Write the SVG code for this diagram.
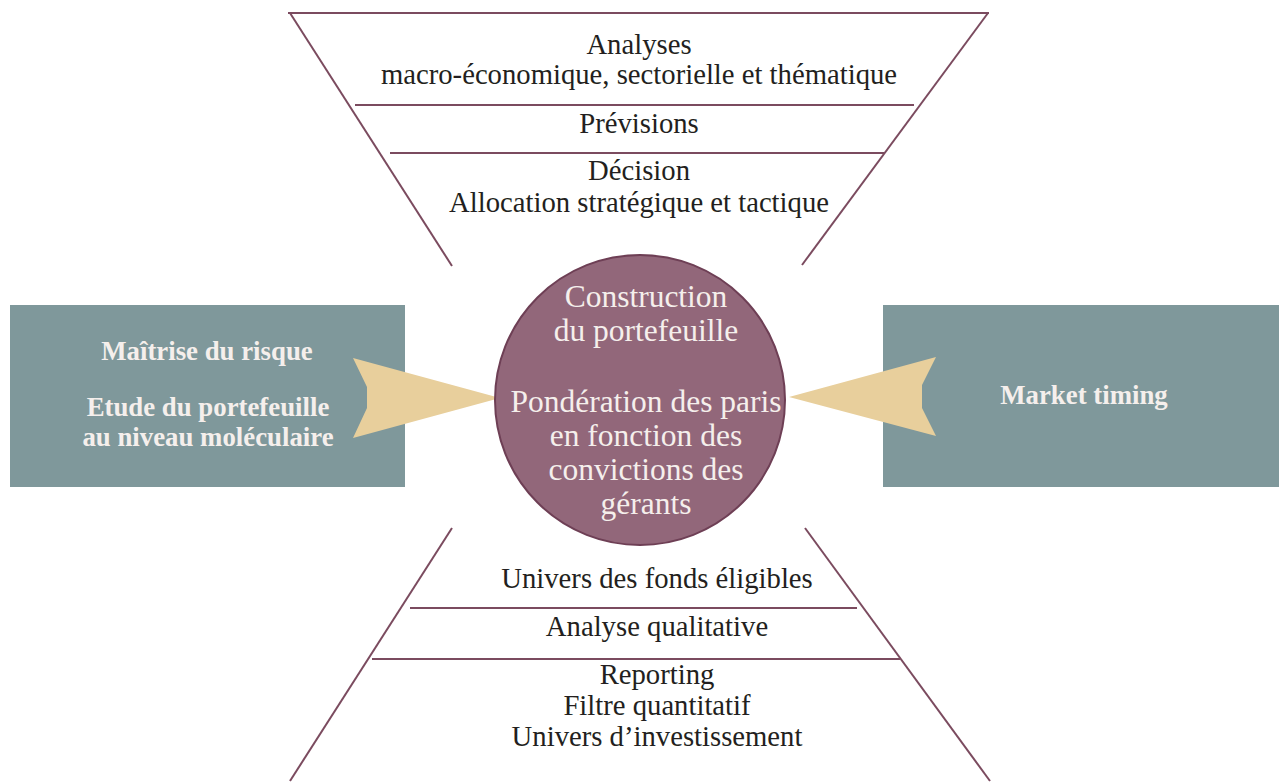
<svg xmlns="http://www.w3.org/2000/svg" width="1279" height="783" viewBox="0 0 1279 783">
<style>
.ln{stroke:#7b4b5f;stroke-width:2;fill:none}
.dark{font-family:"Liberation Serif","Times New Roman",serif;font-size:28.7px;fill:#231f20;text-anchor:middle}
.circ{font-family:"Liberation Serif","Times New Roman",serif;font-size:31.5px;fill:#f5efec;text-anchor:middle}
.box{font-family:"Liberation Serif","Times New Roman",serif;font-size:26.8px;font-weight:bold;fill:#f5efec;text-anchor:middle}
.bx{fill:#7f989b}
.arr{fill:#e8cf9c}
</style>
<rect width="1279" height="783" fill="#ffffff"/>
<g id="funnel-top">
<line class="ln" x1="288" y1="13" x2="989" y2="13"/>
<line class="ln" x1="290" y1="13" x2="452" y2="266"/>
<line class="ln" x1="988" y1="13" x2="802" y2="265"/>
<line class="ln" x1="355" y1="105" x2="914" y2="105"/>
<line class="ln" x1="390" y1="153" x2="884" y2="153"/>
<text class="dark" x="639" y="54">Analyses</text>
<text class="dark" x="639" y="84">macro-économique, sectorielle et thématique</text>
<text class="dark" x="639" y="133">Prévisions</text>
<text class="dark" x="639" y="180">Décision</text>
<text class="dark" x="639" y="212">Allocation stratégique et tactique</text>
</g>
<g id="funnel-bottom">
<line class="ln" x1="452" y1="528" x2="290" y2="781"/>
<line class="ln" x1="805" y1="528" x2="990" y2="781"/>
<line class="ln" x1="410" y1="608" x2="857" y2="608"/>
<line class="ln" x1="372" y1="659" x2="900" y2="659"/>
<text class="dark" x="657" y="588">Univers des fonds éligibles</text>
<text class="dark" x="657" y="636">Analyse qualitative</text>
<text class="dark" x="657" y="684">Reporting</text>
<text class="dark" x="657" y="715">Filtre quantitatif</text>
<text class="dark" x="657" y="746">Univers d’investissement</text>
</g>
<g id="box-left">
<rect class="bx" x="10" y="305" width="395" height="182"/>
<text class="box" x="207" y="360">Maîtrise du risque</text>
<text class="box" x="208" y="416">Etude du portefeuille</text>
<text class="box" x="208" y="446">au niveau moléculaire</text>
</g>
<g id="box-right">
<rect class="bx" x="883" y="305" width="396" height="182"/>
<text class="box" x="1084" y="404">Market timing</text>
</g>
<g id="connectors">
<polygon class="arr" points="353,358 367,387 367,408 353,438 500,398"/>
<polygon class="arr" points="936,357 922,385 922,408 936,436 789,397"/>
</g>
<g id="center">
<circle cx="640" cy="400" r="145" fill="#92677a" stroke="#6e3f55" stroke-width="2"/>
<text class="circ" x="646" y="307">Construction</text>
<text class="circ" x="646" y="341">du portefeuille</text>
<text class="circ" x="646" y="412">Pondération des paris</text>
<text class="circ" x="646" y="446">en fonction des</text>
<text class="circ" x="646" y="480">convictions des</text>
<text class="circ" x="646" y="514">gérants</text>
</g>
</svg>
